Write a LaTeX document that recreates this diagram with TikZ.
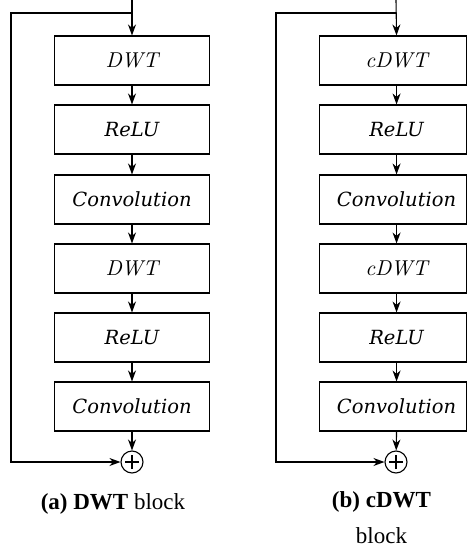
\documentclass[tikz,border=0pt]{standalone}
\usepackage{fontspec}
\setmainfont{Liberation Serif}
\newfontfamily\boxfont{DejaVu Serif}
\newfontfamily\lmfont{lmroman10}[Extension=.otf, UprightFont=*-regular, ItalicFont=*-italic]
\newcommand{\opname}[1]{{\lmfont\itshape\fontsize{21.5}{24}\selectfont #1}}
\usetikzlibrary{arrows.meta}

\begin{document}
\begin{tikzpicture}[x=1pt,y=-1pt,
  line width=1.1pt,
  >={Stealth[length=11pt,width=8pt,inset=3.5pt]},
  box/.style={draw, minimum width=155pt, minimum height=49pt, inner sep=0pt,
    font={\boxfont\itshape\fontsize{19.5}{23}\selectfont}},
  rbox/.style={box, minimum width=147pt, anchor=west},
  sum/.style={draw, circle, minimum size=22pt, inner sep=0pt},
  captext/.style={anchor=base, inner sep=0pt, font={\fontsize{23}{27}\selectfont}},
]
\clip (0,0) rectangle (467,551);

% ---- (a) DWT block ----
\coordinate (ain) at (132,0);
\coordinate (asplit) at (132,13);
\coordinate (aloop) at (11,13);
\node[box] (a1) at (132,60.5) {\opname{DWT}};
\node[box] (a2) at (132,129.5) {ReLU};
\node[box] (a3) at (132,199.5) {Convolution};
\node[box] (a4) at (132,268.5) {\opname{DWT}};
\node[box] (a5) at (132,337.5) {ReLU};
\node[box] (a6) at (132,406.5) {Convolution};
\node[sum] (asum) at (132,462) {};
\draw ([xshift=-7pt]asum.center) -- ([xshift=7pt]asum.center);
\draw ([yshift=-7pt]asum.center) -- ([yshift=7pt]asum.center);

\draw[->] (ain) -- (a1);
\draw[->] (a1) -- (a2);
\draw[->] (a2) -- (a3);
\draw[->] (a3) -- (a4);
\draw[->] (a4) -- (a5);
\draw[->] (a5) -- (a6);
\draw[->] (a6) -- (asum);
\draw[->] (asplit) -- (aloop) |- (asum);

\node[captext] (acap) at (113,509) {\textbf{(a) DWT} block};

% ---- (b) cDWT block ----
\coordinate (bin) at (396,0);
\coordinate (bsplit) at (396,13);
\coordinate (bloop) at (276,13);
\node[rbox] (b1) at (319,60.5) {\hspace*{7pt}\opname{cDWT}};
\node[rbox] (b2) at (319,129.5) {\hspace*{7pt}ReLU};
\node[rbox] (b3) at (319,199.5) {\hspace*{7pt}Convolution};
\node[rbox] (b4) at (319,268.5) {\hspace*{7pt}\opname{cDWT}};
\node[rbox] (b5) at (319,337.5) {\hspace*{7pt}ReLU};
\node[rbox] (b6) at (319,406.5) {\hspace*{7pt}Convolution};
\node[sum] (bsum) at (396,462) {};
\draw ([xshift=-7pt]bsum.center) -- ([xshift=7pt]bsum.center);
\draw ([yshift=-7pt]bsum.center) -- ([yshift=7pt]bsum.center);

\draw[->] (bin) -- ([xshift=3.5pt]b1.north);
\draw[->] ([xshift=3.5pt]b1.south) -- ([xshift=3.5pt]b2.north);
\draw[->] ([xshift=3.5pt]b2.south) -- ([xshift=3.5pt]b3.north);
\draw[->] ([xshift=3.5pt]b3.south) -- ([xshift=3.5pt]b4.north);
\draw[->] ([xshift=3.5pt]b4.south) -- ([xshift=3.5pt]b5.north);
\draw[->] ([xshift=3.5pt]b5.south) -- ([xshift=3.5pt]b6.north);
\draw[->] ([xshift=3.5pt]b6.south) -- (bsum);
\draw[->] (bsplit) -- (bloop) |- (bsum);

\node[captext] (bcap1) at (381.5,507) {\textbf{(b) cDWT}};
\node[captext] (bcap2) at (381.5,543) {block};
\end{tikzpicture}
\end{document}
